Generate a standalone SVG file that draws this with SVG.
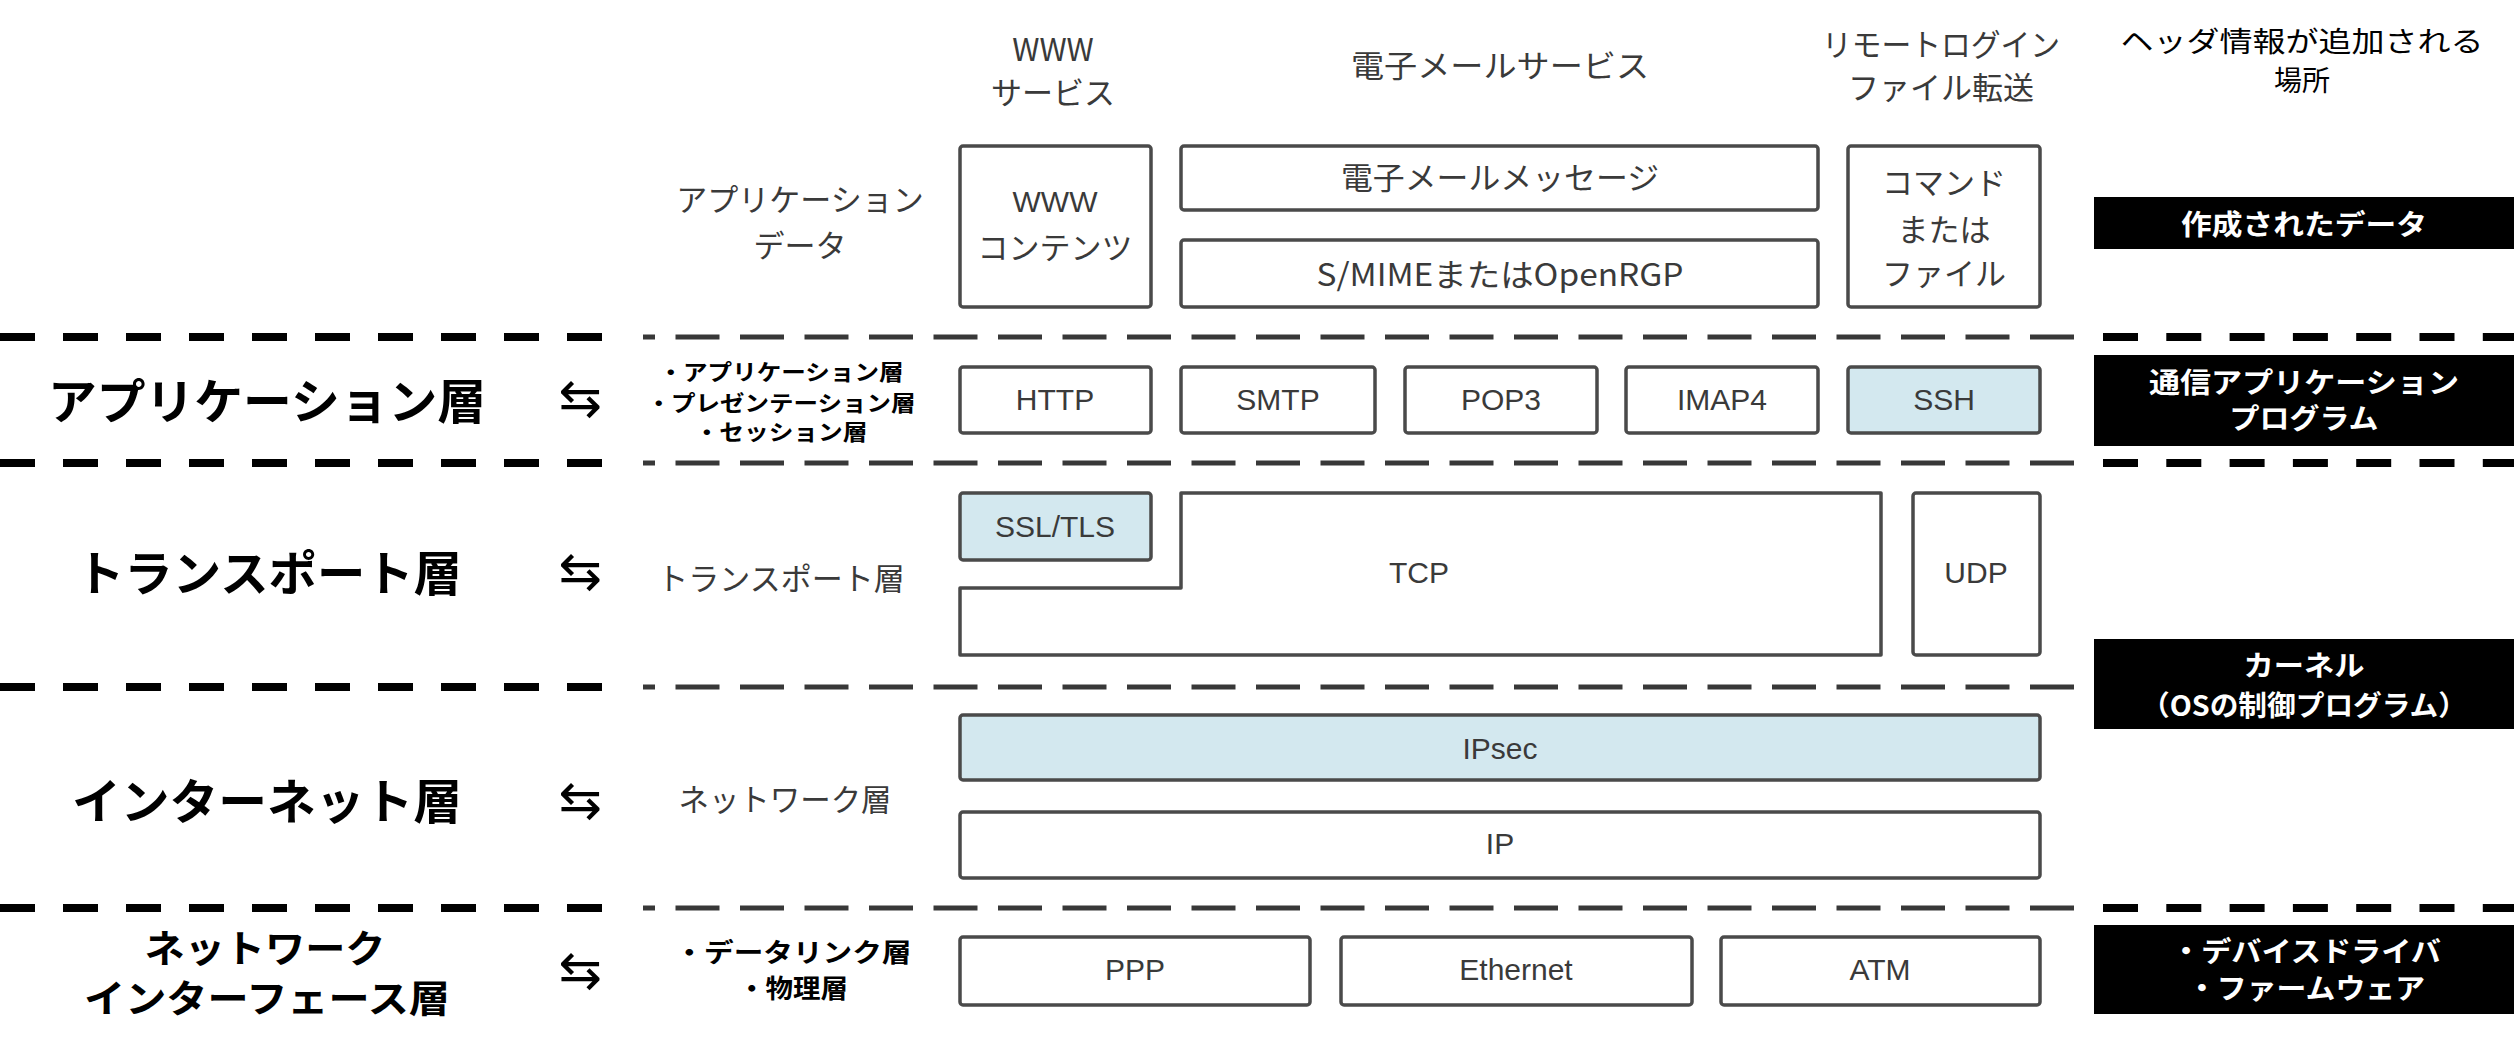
<svg xmlns="http://www.w3.org/2000/svg" width="2514" height="1047" viewBox="0 0 2514 1047">
<style>
.bx{fill:#fff;stroke:#4a4a4a;stroke-width:3.5}
.bl{fill:#d3e8ef;stroke:#4a4a4a;stroke-width:3.5}
.blk{fill:#000}
.t{font-family:"Liberation Sans","Noto Sans CJK JP",sans-serif;font-size:30px;fill:#3a3a3a;text-anchor:middle;dominant-baseline:central}
.j{font-family:"Noto Sans CJK JP",sans-serif;font-size:31px;fill:#3a3a3a;text-anchor:middle;dominant-baseline:central}
.h{font-family:"Noto Sans CJK JP",sans-serif;font-size:28px;fill:#000;text-anchor:middle;dominant-baseline:central}
.big{font-family:"Noto Sans CJK JP",sans-serif;font-size:48px;font-weight:700;fill:#000;text-anchor:middle;dominant-baseline:central}
.big2{font-family:"Noto Sans CJK JP",sans-serif;font-size:38px;font-weight:700;fill:#000;text-anchor:middle;dominant-baseline:central}
.sm{font-family:"Noto Sans CJK JP",sans-serif;font-size:22px;font-weight:700;fill:#000;text-anchor:middle;dominant-baseline:central}
.sm2{font-family:"Noto Sans CJK JP",sans-serif;font-size:26px;font-weight:700;fill:#000;text-anchor:middle;dominant-baseline:central}
.w{font-family:"Noto Sans CJK JP",sans-serif;font-size:28px;font-weight:700;fill:#fff;text-anchor:middle;dominant-baseline:central}
.ar{font-family:"DejaVu Sans",sans-serif;font-size:52px;fill:#000;text-anchor:middle;dominant-baseline:central}
.kd{stroke:#000;stroke-width:8;stroke-dasharray:35 28}
.kd2{stroke:#000;stroke-width:8;stroke-dasharray:35 28.3}
.gd{stroke:#383838;stroke-width:5;stroke-dasharray:44 20.5;stroke-dashoffset:32}
</style>
<g id="connectors">
<line class="kd" x1="0" y1="337" x2="604" y2="337"/>
<line class="kd" x1="0" y1="463" x2="604" y2="463"/>
<line class="kd" x1="0" y1="687" x2="604" y2="687"/>
<line class="kd" x1="0" y1="908" x2="604" y2="908"/>
<line class="gd" x1="643" y1="337" x2="2074" y2="337"/>
<line class="gd" x1="643" y1="463" x2="2074" y2="463"/>
<line class="gd" x1="643" y1="687" x2="2074" y2="687"/>
<line class="gd" x1="643" y1="908" x2="2074" y2="908"/>
<line class="kd2" x1="2103" y1="337" x2="2514" y2="337"/>
<line class="kd2" x1="2103" y1="463" x2="2514" y2="463"/>
<line class="kd2" x1="2103" y1="908" x2="2514" y2="908"/>
</g>
<g id="headers">
<text class="j" x="1053" y="47">WWW</text>
<text class="j" x="1053" y="90">サービス</text>
<text class="j" x="1500" y="63" textLength="298" lengthAdjust="spacingAndGlyphs">電子メールサービス</text>
<text class="j" x="1941" y="42" textLength="238" lengthAdjust="spacingAndGlyphs">リモートログイン</text>
<text class="j" x="1941" y="85">ファイル転送</text>
<text class="h" x="2302" y="40" textLength="363" lengthAdjust="spacingAndGlyphs">ヘッダ情報が追加される</text>
<text class="h" x="2302" y="79">場所</text>
</g>
<g id="layer-labels">
<text class="big" x="267" y="398" textLength="438" lengthAdjust="spacingAndGlyphs">アプリケーション層</text>
<text class="big" x="269" y="570" textLength="386" lengthAdjust="spacingAndGlyphs">トランスポート層</text>
<text class="big" x="267" y="798" textLength="390" lengthAdjust="spacingAndGlyphs">インターネット層</text>
<text class="big2" x="265" y="945" textLength="241" lengthAdjust="spacingAndGlyphs">ネットワーク</text>
<text class="big2" x="267" y="995" textLength="366" lengthAdjust="spacingAndGlyphs">インターフェース層</text>
<text class="ar" x="580" y="398">⇆</text>
<text class="ar" x="580" y="571">⇆</text>
<text class="ar" x="580" y="800">⇆</text>
<text class="ar" x="580" y="970">⇆</text>
</g>
<g id="osi-labels">
<text class="j" x="800" y="197">アプリケーション</text>
<text class="j" x="800" y="243">データ</text>
<text class="sm" x="781" y="370" textLength="245" lengthAdjust="spacingAndGlyphs">・アプリケーション層</text>
<text class="sm" x="781" y="401" textLength="269" lengthAdjust="spacingAndGlyphs">・プレゼンテーション層</text>
<text class="sm" x="781" y="430" textLength="173" lengthAdjust="spacingAndGlyphs">・セッション層</text>
<text class="j" x="781" y="576">トランスポート層</text>
<text class="j" x="785" y="797" textLength="213" lengthAdjust="spacingAndGlyphs">ネットワーク層</text>
<text class="sm2" x="793" y="950" textLength="237" lengthAdjust="spacingAndGlyphs">・データリンク層</text>
<text class="sm2" x="793" y="986" textLength="110" lengthAdjust="spacingAndGlyphs">・物理層</text>
</g>
<g id="www-contents"><rect class="bx" x="960" y="146" width="191" height="161" rx="3"/><text class="t" x="1055" y="201">WWW</text><text class="j" x="1055" y="245">コンテンツ</text></g>
<g id="email-message"><rect class="bx" x="1181" y="146" width="637" height="64" rx="3"/><text class="j" x="1500" y="175" textLength="318" lengthAdjust="spacingAndGlyphs">電子メールメッセージ</text></g>
<g id="smime"><rect class="bx" x="1181" y="240" width="637" height="67" rx="3"/><text class="j" x="1500" y="272" textLength="367" lengthAdjust="spacingAndGlyphs">S/MIMEまたはOpenRGP</text></g>
<g id="command-file"><rect class="bx" x="1848" y="146" width="192" height="161" rx="3"/><text class="j" x="1944" y="180">コマンド</text><text class="j" x="1944" y="227">または</text><text class="j" x="1944" y="271">ファイル</text></g>
<g id="created-data"><rect class="blk" x="2094" y="197" width="420" height="52"/><text class="w" x="2304" y="223" textLength="246" lengthAdjust="spacingAndGlyphs">作成されたデータ</text></g>
<g id="http"><rect class="bx" x="960" y="367" width="191" height="66" rx="3"/><text class="t" x="1055" y="399">HTTP</text></g>
<g id="smtp"><rect class="bx" x="1181" y="367" width="194" height="66" rx="3"/><text class="t" x="1278" y="399">SMTP</text></g>
<g id="pop3"><rect class="bx" x="1405" y="367" width="192" height="66" rx="3"/><text class="t" x="1501" y="399">POP3</text></g>
<g id="imap4"><rect class="bx" x="1626" y="367" width="192" height="66" rx="3"/><text class="t" x="1722" y="399">IMAP4</text></g>
<g id="ssh"><rect class="bl" x="1848" y="367" width="192" height="66" rx="3"/><text class="t" x="1944" y="399">SSH</text></g>
<g id="comm-app"><rect class="blk" x="2094" y="355" width="420" height="91"/><text class="w" x="2304" y="381" textLength="310" lengthAdjust="spacingAndGlyphs">通信アプリケーション</text><text class="w" x="2304" y="417" textLength="149" lengthAdjust="spacingAndGlyphs">プログラム</text></g>
<g id="ssl-tls"><rect class="bl" x="960" y="493" width="191" height="67" rx="3"/><text class="t" x="1055" y="526">SSL/TLS</text></g>
<g id="tcp"><path class="bx" d="M1181,493 H1881 V655 H960 V588 H1181 Z" stroke-linejoin="round"/><text class="t" x="1419" y="572">TCP</text></g>
<g id="udp"><rect class="bx" x="1913" y="493" width="127" height="162" rx="3"/><text class="t" x="1976" y="572">UDP</text></g>
<g id="kernel"><rect class="blk" x="2094" y="639" width="420" height="90"/><text class="w" x="2304" y="664" textLength="121" lengthAdjust="spacingAndGlyphs">カーネル</text><text class="w" x="2304" y="704" textLength="326" lengthAdjust="spacingAndGlyphs">（OSの制御プログラム）</text></g>
<g id="ipsec"><rect class="bl" x="960" y="715" width="1080" height="65" rx="3"/><text class="t" x="1500" y="748">IPsec</text></g>
<g id="ip"><rect class="bx" x="960" y="812" width="1080" height="66" rx="3"/><text class="t" x="1500" y="843">IP</text></g>
<g id="ppp"><rect class="bx" x="960" y="937" width="350" height="68" rx="3"/><text class="t" x="1135" y="969">PPP</text></g>
<g id="ethernet"><rect class="bx" x="1341" y="937" width="351" height="68" rx="3"/><text class="t" x="1516" y="969">Ethernet</text></g>
<g id="atm"><rect class="bx" x="1721" y="937" width="319" height="68" rx="3"/><text class="t" x="1880" y="969">ATM</text></g>
<g id="device"><rect class="blk" x="2094" y="925" width="420" height="89"/><text class="w" x="2306" y="950" textLength="270" lengthAdjust="spacingAndGlyphs">・デバイスドライバ</text><text class="w" x="2306" y="987" textLength="238" lengthAdjust="spacingAndGlyphs">・ファームウェア</text></g>
</svg>
